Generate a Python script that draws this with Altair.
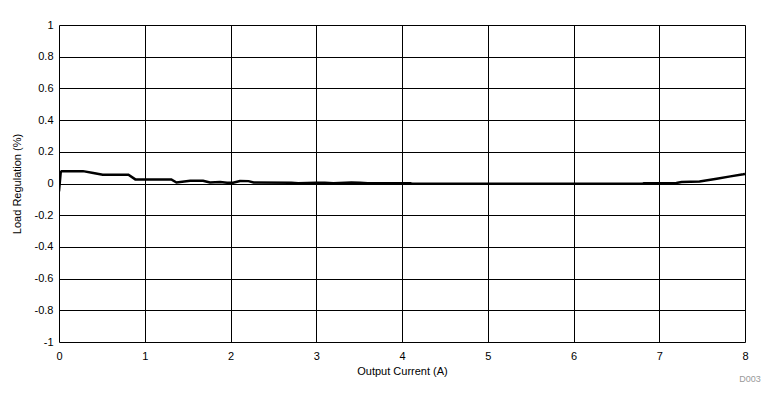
import altair as alt
import pandas as pd

current = [0.0, 0.02, 0.03, 0.28, 0.4, 0.51, 0.81, 0.89, 1.31, 1.37, 1.53, 1.68, 1.76, 1.88,
           1.96, 2.03, 2.11, 2.21, 2.27, 2.71, 2.79, 3.0, 3.1, 3.2, 3.41, 3.51, 3.6, 4.1, 4.12,
           5.0, 6.0, 6.8, 6.82, 7.2, 7.26, 7.47, 7.67, 7.83, 7.98, 8.0]
regulation = [-0.05, 0.07, 0.078, 0.078, 0.066, 0.055, 0.055, 0.026, 0.026, 0.006, 0.017, 0.017,
              0.006, 0.01, 0.005, 0.005, 0.016, 0.015, 0.006, 0.005, 0.002, 0.005, 0.004, 0.002,
              0.006, 0.005, 0.002, 0.002, -0.002, -0.002, -0.002, -0.002, 0.002, 0.003, 0.01,
              0.013, 0.03, 0.045, 0.058, 0.06]

x_ticks = [0, 1, 2, 3, 4, 5, 6, 7, 8]
y_ticks = [-1, -0.8, -0.6, -0.4, -0.2, 0, 0.2, 0.4, 0.6, 0.8, 1]

df = pd.DataFrame({"current": current, "reg": regulation})

font = "Liberation Sans"

line = alt.Chart(df).mark_line(color="black", strokeWidth=2.5, clip=True).encode(
    x=alt.X("current:Q", scale=alt.Scale(domain=[0, 8], nice=False, zero=False),
            axis=alt.Axis(values=x_ticks, title="Output Current (A)", grid=True,
                          gridColor="black", gridWidth=1, gridOpacity=1,
                          domain=False, ticks=False, labelPadding=8, labelFlush=False,
                          labelExpr="'' + datum.value",
                          labelFontSize=11, labelFont=font, labelColor="black",
                          titleFont=font, titleFontSize=11, titleFontWeight="normal",
                          titleColor="black", titlePadding=4)),
    y=alt.Y("reg:Q", scale=alt.Scale(domain=[-1, 1], nice=False, zero=False),
            axis=alt.Axis(values=y_ticks, title="Load Regulation (%)", grid=True,
                          gridColor="black", gridWidth=1, gridOpacity=1,
                          domain=False, ticks=False, labelPadding=6, labelFlush=False,
                          labelExpr="'' + datum.value",
                          labelFontSize=11, labelFont=font, labelColor="black",
                          titleFont=font, titleFontSize=11, titleFontWeight="normal",
                          titleColor="black", titlePadding=12)),
)

note = alt.Chart(pd.DataFrame({"t": ["D003"]})).mark_text(
    font=font, fontSize=9, color="#999999", align="center", baseline="middle"
).encode(x=alt.value(691), y=alt.value(354), text="t:N")

chart = alt.layer(line, note).properties(
    width=686, height=317,
    padding={"left": 51, "top": 17, "right": 20, "bottom": 60},
    autosize=alt.AutoSizeParams(type="none"),
).configure_view(stroke="black", strokeWidth=2).configure(background="white")

chart.save("out.html", embed_options={"renderer": "svg", "actions": False})
